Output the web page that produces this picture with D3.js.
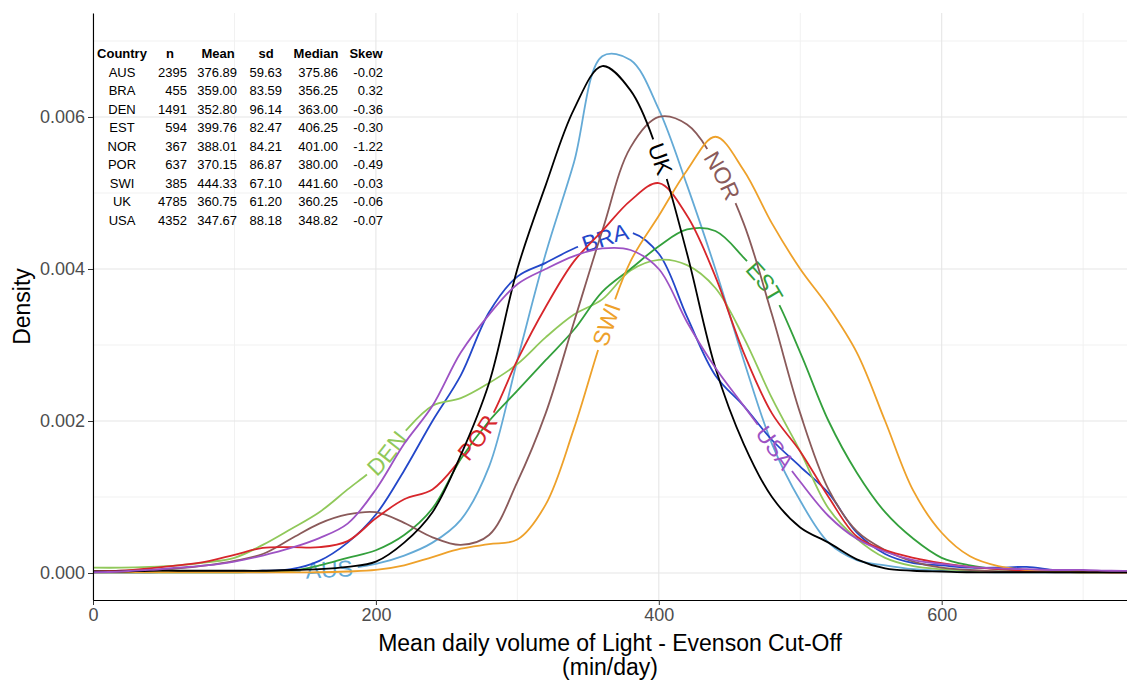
<!DOCTYPE html>
<meta charset="utf-8">
<style>
body { margin: 0; background-color: #FFFFFF; }
svg { font-family: "Liberation Sans", Arial, sans-serif; }
.axis .tick text { fill: #4d4d4d; font-size: 18px; }
.axis .tick line { stroke: #333; }
.axis .domain { stroke: #000; stroke-width: 1.1px; }
</style>
<svg width="1127" height="681"></svg>
<script src="https://d3js.org/d3.v7.min.js"></script>
<script>

// density curves, sampled every 20 min/day
var minutes = [0,20,40,60,80,100,120,140,160,180,200,220,240,260,280,300,320,340,360,380,
               400,420,440,460,480,500,520,540,560,580,600,620,640,660,680,700,720,740];

var countries = ["AUS","BRA","DEN","EST","NOR","POR","SWI","UK","USA"];
var colours = ["#64aad6","#2347c9","#90c85a","#33a03c","#8a5a5a","#d7262b","#eea12a","#000000","#9d52c4"];

var densAUS = [.00001,.00001,.00001,.00001,.00001,.00001,.00001,.00002,.00004,.00006,.00012,.00023,.0004,.0007,.0014,.0028,.0042,.0054,.0068,.00675,
               .0061,.0051,.0040,.0028,.0017,.00095,.0004,.00017,.0001,.00005,.00003,.00002,.00001,.00001,.00001,.00001,.00001,.00001];
var densBRA = [.00001,.00001,.00001,.00002,.00002,.00002,.00003,.00005,.00016,.0004,.00077,.00135,.002,.0026,.00343,.0039,.00408,.00427,.0044,.00448,
               .0042,.00337,.0026,.0022,.00175,.0014,.00105,.00053,.00025,.00013,.0001,.00007,.00007,.00008,.00004,.00002,.00001,.00001];
var densDEN = [.00007,.00007,.00008,.0001,.00014,.0002,.00037,.00058,.0008,.0011,.0014,.00185,.0022,.0023,.0025,.00275,.0031,.0034,.0036,.00398,
               .00412,.00405,.00375,.0031,.0023,.0016,.00085,.00045,.0002,.00009,.00005,.00003,.00002,.00002,.00002,.00002,.00002,.00002];
var densEST = [.00001,.00001,.00001,.00001,.00001,.00001,.00002,.00003,.0001,.0002,.0003,.0005,.00085,.0015,.002,.0024,.0028,.0032,.0037,.004,
               .0043,.00452,.0045,.00415,.0037,.0029,.002,.00132,.0008,.00045,.0002,.0001,.00005,.00003,.00002,.00001,.00001,.00001];
var densNOR = [.00002,.00003,.00004,.00006,.0001,.00016,.00025,.00045,.00065,.00077,.0008,.00066,.00047,.00037,.0005,.0012,.0021,.0033,.0045,.0056,
               .006,.0059,.0054,.0046,.0034,.0021,.0011,.00055,.0003,.00015,.00007,.00004,.00002,.00002,.00001,.00001,.00001,.00001];
var densPOR = [.00002,.00003,.00006,.0001,.00015,.00024,.00033,.00034,.00034,.00042,.00072,.00097,.0011,.0015,.002,.0028,.0035,.0041,.0045,.0049,
               .00513,.0047,.0039,.0029,.0021,.0016,.001,.00048,.0003,.0002,.00013,.00008,.00005,.00003,.00002,.00002,.00001,.00001];
var densSWI = [.00001,.00001,.00001,.00001,.00001,.00001,.00001,.00001,.00001,.00002,.00004,.0001,.00021,.00032,.00038,.00044,.0009,.0019,.0031,.0041,
               .0047,.0053,.00574,.0053,.0046,.004,.0035,.0029,.002,.00108,.00053,.00022,.00009,.00004,.00002,.00001,.00001,.00001];
var densUK  = [.00002,.00002,.00003,.00003,.00003,.00003,.00003,.00004,.00005,.00008,.00015,.0004,.0008,.00155,.0025,.0040,.0051,.0061,.00667,.00635,
               .0055,.0042,.0027,.0017,.001,.0006,.0004,.00018,.00006,.00003,.00002,.00001,.00001,.00001,.00001,.00001,.00001,.00001];
var densUSA = [.00001,.00002,.00004,.00007,.0001,.00015,.00023,.00033,.00046,.00065,.0011,.0017,.0022,.0029,.0034,.0038,.004,.00417,.00427,.00425,
               .004,.0033,.0027,.0022,.0017,.0012,.00075,.00045,.00028,.00017,.00012,.00008,.00006,.00005,.00004,.00004,.00003,.00003];
var densities = [densAUS, densBRA, densDEN, densEST, densNOR, densPOR, densSWI, densUK, densUSA];

// where each country's name sits on its curve (min/day)
var labelAt = [167, 362, 208, 475, 445, 272, 363, 401, 482];

// summary table
var tableHeader = ["Country","n","Mean","sd","Median","Skew"];
var tableN      = [2395, 455, 1491, 594, 367, 637, 385, 4785, 4352];
var tableMean   = [376.89, 359.00, 352.80, 399.76, 388.01, 370.15, 444.33, 360.75, 347.67];
var tableSd     = [59.63, 83.59, 96.14, 82.47, 84.21, 86.87, 67.10, 61.20, 88.18];
var tableMedian = [375.86, 356.25, 363.00, 406.25, 401.00, 380.00, 441.60, 360.25, 348.82];
var tableSkew   = [-0.02, 0.32, -0.36, -0.30, -1.22, -0.49, -0.03, -0.06, -0.07];

var xTicks = [0, 200, 400, 600];
var yTicks = [0, 0.002, 0.004, 0.006];

var svg = d3.select("svg"),
    margin = {top: 13, right: 0, bottom: 81, left: 93},
    width = +svg.attr("width") - margin.left - margin.right,
    height = +svg.attr("height") - margin.top - margin.bottom,
    g = svg.append("g").attr("transform", "translate(" + margin.left + "," + margin.top + ")");

var x = d3.scaleLinear().domain([0, 731]).range([0, width]);
var y = d3.scaleLinear().domain([-0.000355, 0.007368]).range([height, 0]);

// grid
var grid = g.append("g");
[100, 300, 500, 700].forEach(function(v) {
  grid.append("line").attr("x1", x(v)).attr("x2", x(v)).attr("y1", 0).attr("y2", height)
    .attr("stroke", "#f1f1f1").attr("stroke-width", 1);
});
[0.001, 0.003, 0.005, 0.007].forEach(function(v) {
  grid.append("line").attr("x1", 0).attr("x2", width).attr("y1", y(v)).attr("y2", y(v))
    .attr("stroke", "#f1f1f1").attr("stroke-width", 1);
});
xTicks.forEach(function(v) {
  grid.append("line").attr("x1", x(v)).attr("x2", x(v)).attr("y1", 0).attr("y2", height)
    .attr("stroke", "#e6e6e6").attr("stroke-width", 1.1);
});
yTicks.forEach(function(v) {
  grid.append("line").attr("x1", 0).attr("x2", width).attr("y1", y(v)).attr("y2", y(v))
    .attr("stroke", "#e6e6e6").attr("stroke-width", 1.1);
});

g.append("clipPath").attr("id", "panel")
  .append("rect").attr("width", width).attr("height", height);

var line = d3.line()
    .x(function(d) { return x(d[0]); })
    .y(function(d) { return y(d[1]); })
    .curve(d3.curveCatmullRom.alpha(0.5));

var curves = g.append("g").attr("clip-path", "url(#panel)");

function lengthAtX(node, xv) {
  var px = x(xv), lo = 0, hi = node.getTotalLength();
  for (var k = 0; k < 40; k++) {
    var mid = (lo + hi) / 2;
    if (node.getPointAtLength(mid).x < px) lo = mid; else hi = mid;
  }
  return lo;
}

countries.forEach(function(c, i) {
  var pts = minutes.map(function(m, j) { return [m, densities[i][j]]; });
  var path = curves.append("path")
      .attr("id", "curve-" + c)
      .attr("d", line(pts))
      .attr("fill", "none")
      .attr("stroke", colours[i])
      .attr("stroke-width", 1.8);
  var node = path.node(), total = node.getTotalLength();
  var at = lengthAtX(node, labelAt[i]);
  var t = curves.append("text")
      .attr("font-size", 23)
      .attr("fill", colours[i])
      .attr("dominant-baseline", "central");
  t.append("textPath")
      .attr("href", "#curve-" + c)
      .attr("startOffset", at)
      .attr("text-anchor", "middle")
      .text(c);
  var w = t.node().getComputedTextLength();
  path.attr("stroke-dasharray", [at - w / 2 - 5, w + 10, total].join(","));
});

// axes
g.append("g")
    .attr("class", "axis")
    .attr("transform", "translate(0," + height + ")")
    .call(d3.axisBottom(x).tickValues(xTicks).tickSize(5).tickSizeOuter(0).tickPadding(3)
      .tickFormat(d3.format("d")));

g.append("g")
    .attr("class", "axis")
    .call(d3.axisLeft(y).tickValues(yTicks).tickSize(5).tickSizeOuter(0).tickPadding(3)
      .tickFormat(function(d) { return d.toFixed(3); }));

svg.selectAll(".axis .tick text").attr("font-family", null).attr("font-size", null);

svg.append("text")
    .attr("transform", "translate(30," + (margin.top + height / 2) + ") rotate(-90)")
    .attr("text-anchor", "middle")
    .attr("font-size", 23)
    .attr("fill", "#000")
    .text("Density");

svg.append("text")
    .attr("x", margin.left + width / 2)
    .attr("y", 651)
    .attr("text-anchor", "middle")
    .attr("font-size", 23)
    .attr("fill", "#000")
    .text("Mean daily volume of Light - Evenson Cut-Off");

svg.append("text")
    .attr("x", margin.left + width / 2)
    .attr("y", 675)
    .attr("text-anchor", "middle")
    .attr("font-size", 23)
    .attr("fill", "#000")
    .text("(min/day)");

// table
var headX  = [122, 170, 218, 266, 316, 366];
var cellX  = [122, 187, 237, 282, 338, 383];
var table = svg.append("g").attr("font-size", 13).attr("fill", "#000");

table.selectAll("text.head")
  .data(tableHeader)
  .enter().append("text")
    .attr("class", "head")
    .attr("x", function(d, i) { return headX[i]; })
    .attr("y", 53)
    .attr("dy", "0.35em")
    .attr("text-anchor", "middle")
    .attr("font-weight", "bold")
    .text(function(d) { return d; });

countries.forEach(function(c, r) {
  var cells = [c, String(tableN[r]), tableMean[r].toFixed(2), tableSd[r].toFixed(2),
               tableMedian[r].toFixed(2), tableSkew[r].toFixed(2)];
  cells.forEach(function(v, k) {
    table.append("text")
      .attr("x", cellX[k])
      .attr("y", 72 + r * 18.5)
      .attr("dy", "0.35em")
      .attr("text-anchor", k === 0 ? "middle" : "end")
      .text(v);
  });
});

</script>
